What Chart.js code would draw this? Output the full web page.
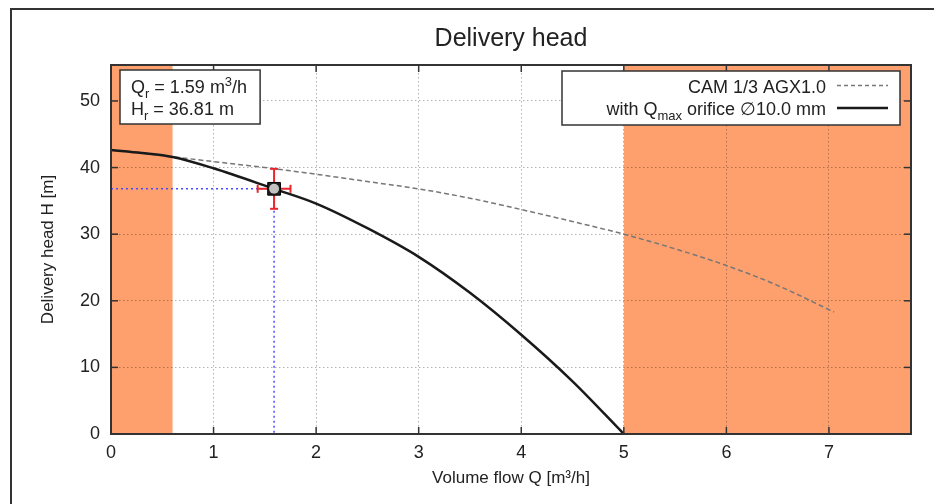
<!DOCTYPE html>
<html>
<head>
<meta charset="utf-8">
<script src="https://cdn.jsdelivr.net/npm/chart.js"></script>
<style>
  html, body { margin: 0; padding: 0; background: #fff; overflow: hidden; }
  #wrap { position: relative; width: 934px; height: 504px; }
  #frame { position: absolute; left: 10px; top: 8px; right: 0; bottom: 0; border-left: 2px solid #333; border-top: 2px solid #333; }
  canvas { position: absolute; left: 0; top: 0; }
</style>
</head>
<body>
<div id="wrap"><div id="frame"></div><canvas id="chart" width="934" height="504"></canvas></div>
<script>
// Curvas (Q en m3/h, H en m)
const qCam = [0, 0.5, 1, 1.5, 2, 2.5, 3, 3.5, 4, 4.5, 5, 5.5, 6, 6.5, 7.05];
const hCam = [42.7, 41.8, 40.9, 40.0, 39.0, 37.9, 36.8, 35.4, 33.7, 31.9, 30.0, 27.8, 25.3, 22.3, 18.3];

const qOrifice = [0, 0.3, 0.6, 1, 1.59, 2, 2.5, 3, 3.5, 4, 4.5, 5];
const hOrifice = [42.65, 42.2, 41.6, 39.9, 36.81, 34.6, 30.9, 26.6, 21.2, 14.9, 7.9, 0];

// punto de trabajo y sus barras de error
const qR = 1.59;
const hR = 36.81;
const errQ = 0.16;
const errH = 3.0;

// zonas fuera de rango (naranja)
const bandsQ = [[0, 0.6], [5, 7.8]];

// ejes
const xTicks = [0, 1, 2, 3, 4, 5, 6, 7];
const yTicks = [0, 10, 20, 30, 40, 50];
const xMax = 7.8;
const yMax = 55.4;

const FONT = "'Liberation Sans', Arial, Helvetica, sans-serif";
const ORANGE = '#fea06e';
const INK = '#222';

Chart.defaults.font.family = FONT;
Chart.defaults.color = INK;

/* Utils */
function toPoints(xs, ys) {
  return xs.map((x, i) => ({ x, y: ys[i] }));
}

function line(ctx, x0, y0, x1, y1) {
  ctx.beginPath();
  ctx.moveTo(x0, y0);
  ctx.lineTo(x1, y1);
  ctx.stroke();
}

// texto con subíndices / superíndices
const FS = 18;
function partFont(p) {
  return (p.sub || p.sup) ? `${Math.round(FS * 0.7)}px ${FONT}` : `${FS}px ${FONT}`;
}
function richWidth(ctx, parts) {
  let w = 0;
  parts.forEach(p => { ctx.font = partFont(p); w += ctx.measureText(p.t).width; });
  return w;
}
function drawRich(ctx, parts, x, y) {
  ctx.textBaseline = 'alphabetic';
  ctx.textAlign = 'left';
  parts.forEach(p => {
    ctx.font = partFont(p);
    const dy = p.sub ? 5 : p.sup ? -7 : 0;
    ctx.fillText(p.t, x, y + dy);
    x += ctx.measureText(p.t).width;
  });
}

const bandsPlugin = {
  id: 'bands',
  beforeDraw(chart) {
    const { ctx, chartArea: a, scales: { x } } = chart;
    ctx.save();
    ctx.fillStyle = ORANGE;
    bandsQ.forEach(([q0, q1]) => {
      const x0 = x.getPixelForValue(q0), x1 = x.getPixelForValue(q1);
      ctx.fillRect(x0, a.top, x1 - x0, a.bottom - a.top);
    });
    ctx.restore();
  }
};

const errorBarPlugin = {
  id: 'errorBars',
  beforeDatasetDraw(chart, args) {
    if (args.index !== 1) return;
    const { ctx, scales: { x, y } } = chart;
    const px = x.getPixelForValue(qR), py = y.getPixelForValue(hR);
    const xl = x.getPixelForValue(qR - errQ), xr = x.getPixelForValue(qR + errQ);
    const yt = y.getPixelForValue(hR + errH), yb = y.getPixelForValue(hR - errH);
    const cap = 4;
    ctx.save();
    ctx.strokeStyle = '#e8262b';
    ctx.lineWidth = 2;
    line(ctx, px, yt, px, yb);
    line(ctx, px - cap, yt, px + cap, yt);
    line(ctx, px - cap, yb, px + cap, yb);
    line(ctx, xl, py, xr, py);
    line(ctx, xl, py - cap, xl, py + cap);
    line(ctx, xr, py - cap, xr, py + cap);
    ctx.restore();
  }
};

const framePlugin = {
  id: 'frame',
  afterDatasetsDraw(chart) {
    const { ctx, chartArea: a, scales: { x, y } } = chart;
    const tl = 7;
    ctx.save();
    ctx.strokeStyle = '#333';
    ctx.lineWidth = 1.5;
    xTicks.forEach(v => {
      const px = x.getPixelForValue(v);
      line(ctx, px, a.bottom, px, a.bottom - tl);
      line(ctx, px, a.top, px, a.top + tl);
    });
    yTicks.forEach(v => {
      const py = y.getPixelForValue(v);
      line(ctx, a.left, py, a.left + tl, py);
      line(ctx, a.right, py, a.right - tl, py);
    });
    ctx.lineWidth = 2;
    ctx.strokeRect(a.left, a.top, a.right - a.left, a.bottom - a.top);
    ctx.restore();
  }
};

const boxesPlugin = {
  id: 'boxes',
  afterDraw(chart) {
    const { ctx, chartArea: a } = chart;
    ctx.save();

    // Caja del punto de trabajo
    const info = [
      [{ t: 'Q' }, { t: 'r', sub: true }, { t: ' = ' + qR.toFixed(2) + ' m' }, { t: '3', sup: true }, { t: '/h' }],
      [{ t: 'H' }, { t: 'r', sub: true }, { t: ' = ' + hR.toFixed(2) + ' m' }]
    ];
    const bx = a.left + 9, by = a.top + 5;
    const bw = Math.max(...info.map(l => richWidth(ctx, l))) + 24;
    ctx.fillStyle = '#fff';
    ctx.fillRect(bx, by, bw, 54);
    ctx.strokeStyle = '#333';
    ctx.lineWidth = 1.5;
    ctx.strokeRect(bx, by, bw, 54);
    ctx.fillStyle = INK;
    drawRich(ctx, info[0], bx + 11, by + 23);
    drawRich(ctx, info[1], bx + 11, by + 45);

    // Leyenda
    const entries = [
      { parts: [{ t: 'CAM 1/3 AGX1.0' }], color: '#777', width: 1.5, dash: [4, 3] },
      { parts: [{ t: 'with Q' }, { t: 'max', sub: true }, { t: ' orifice \u220510.0 mm' }], color: '#1a1a1a', width: 2.5, dash: [] }
    ];
    const lr = a.right - 11, lt = a.top + 6, lw = 338;
    ctx.fillStyle = '#fff';
    ctx.fillRect(lr - lw, lt, lw, 54);
    ctx.strokeStyle = '#333';
    ctx.lineWidth = 1.5;
    ctx.strokeRect(lr - lw, lt, lw, 54);
    entries.forEach((e, i) => {
      const base = lt + 21.5 + i * 22.5;
      ctx.fillStyle = INK;
      drawRich(ctx, e.parts, lr - 74 - richWidth(ctx, e.parts), base);
      ctx.strokeStyle = e.color;
      ctx.lineWidth = e.width;
      ctx.setLineDash(e.dash);
      line(ctx, lr - 63, base - 7, lr - 12, base - 7);
      ctx.setLineDash([]);
    });
    ctx.restore();
  }
};

const gridOpts = { color: 'rgba(0,0,0,0.3)', lineWidth: 1, drawTicks: false };

new Chart(document.getElementById('chart'), {
  type: 'line',
  data: {
    datasets: [
      { // centro del marcador
        data: [{ x: qR, y: hR }], showLine: false, pointStyle: 'circle',
        pointRadius: 5, pointBackgroundColor: '#c2c2c2', pointBorderWidth: 0, order: 0
      },
      { // marcador cuadrado
        data: [{ x: qR, y: hR }], showLine: false, pointStyle: 'rect',
        pointRadius: 9, pointBackgroundColor: '#1e1e1e', pointBorderColor: '#000', pointBorderWidth: 1, order: 1
      },
      {
        label: 'with Qmax orifice 10.0 mm',
        data: toPoints(qOrifice, hOrifice),
        borderColor: '#1a1a1a', borderWidth: 2.5, pointRadius: 0,
        cubicInterpolationMode: 'monotone', order: 3
      },
      {
        label: 'CAM 1/3 AGX1.0',
        data: toPoints(qCam, hCam),
        borderColor: '#777', borderWidth: 1.5, borderDash: [5, 3], pointRadius: 0,
        cubicInterpolationMode: 'monotone', order: 4
      },
      { // líneas de referencia azules
        data: [{ x: 0, y: hR }, { x: qR, y: hR }, { x: qR, y: 0 }],
        borderColor: '#4a4aff', borderWidth: 1.5, borderDash: [2, 3], pointRadius: 0,
        tension: 0, order: 5
      }
    ]
  },
  options: {
    responsive: false,
    animation: false,
    devicePixelRatio: 1,
    layout: { padding: { left: 0, right: 23, top: 0, bottom: 0 } },
    plugins: {
      legend: { display: false },
      tooltip: { enabled: false },
      title: {
        display: true, text: 'Delivery head', fullSize: false,
        font: { size: 25, weight: 'normal' }, color: INK,
        padding: { top: 24, bottom: 11 }
      }
    },
    scales: {
      x: {
        type: 'linear', min: 0, max: xMax,
        afterBuildTicks: s => { s.ticks = xTicks.map(v => ({ value: v })); },
        grid: gridOpts,
        border: { display: false, dash: [1.5, 2.5] },
        ticks: { padding: 8, font: { size: 18 }, color: INK },
        title: { display: true, text: 'Volume flow Q [m³/h]', font: { size: 17 }, color: INK, padding: { top: 0, bottom: 15 } },
        afterFit: s => { s.height = 70; }
      },
      y: {
        type: 'linear', min: 0, max: yMax,
        afterBuildTicks: s => { s.ticks = yTicks.map(v => ({ value: v })); },
        grid: gridOpts,
        border: { display: false, dash: [1.5, 2.5] },
        ticks: { padding: 11, font: { size: 18 }, color: INK },
        title: { display: true, text: 'Delivery head H [m]', font: { size: 17 }, color: INK, padding: { top: 38, bottom: 0 } },
        afterFit: s => { s.width = 111; }
      }
    }
  },
  plugins: [bandsPlugin, errorBarPlugin, framePlugin, boxesPlugin]
});
</script>
</body>
</html>
